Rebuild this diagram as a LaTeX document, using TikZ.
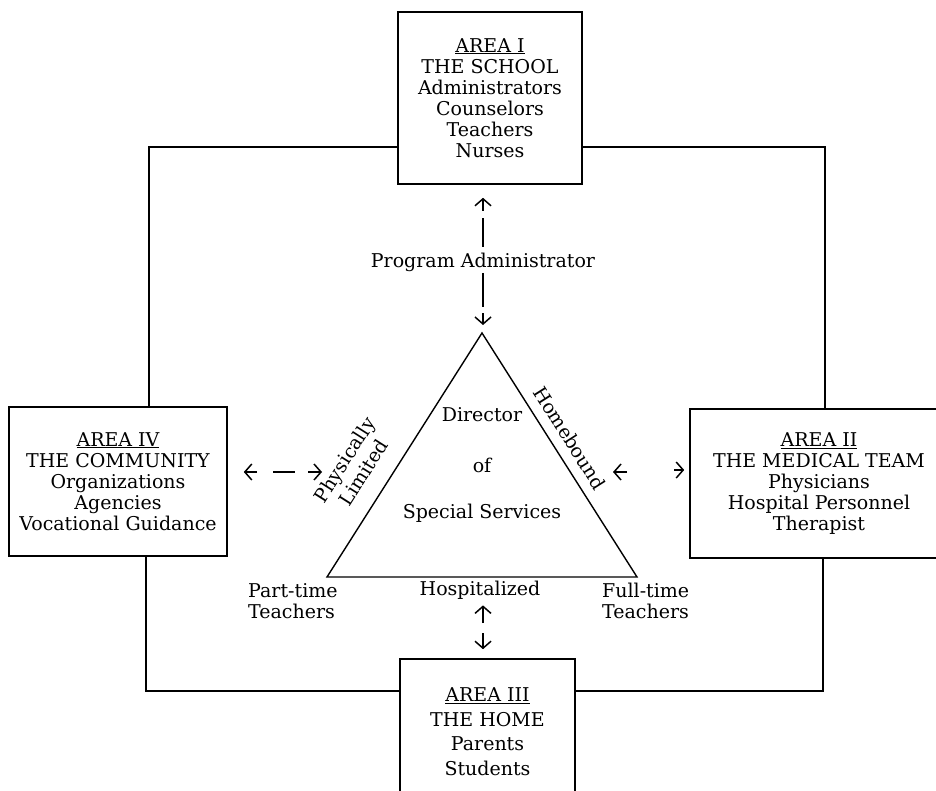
\documentclass[tikz,border=0pt]{standalone}
\usepackage{fontspec}
\setmainfont{DejaVu Serif}
\usetikzlibrary{arrows.meta}
\begin{document}
\begin{tikzpicture}[x=1pt,y=-1pt,
  every node/.style={font=\fontsize{19}{21}\selectfont, inner sep=0pt},
  area/.style={draw, line width=1.6pt, align=center},
  conn/.style={line width=1.3pt},
  tipa/.style={line width=1.5pt, -{Straight Barb[length=7pt,width=16pt,line width=1.5pt]}},
  ]
\useasboundingbox (0,0) rectangle (936,791);

% Area boxes
\node[area, minimum width=184, minimum height=172] (top) at (490,98)
  {\underline{AREA I}\\THE SCHOOL\\Administrators\\Counselors\\Teachers\\Nurses};
\node[area, minimum width=218, minimum height=149] (left) at (118,481.5)
  {\underline{AREA IV}\\THE COMMUNITY\\Organizations\\Agencies\\Vocational Guidance};
\node[area, minimum width=258, minimum height=149] (right) at (819,483.5)
  {\underline{AREA II}\\THE MEDICAL TEAM\\Physicians\\Hospital Personnel\\Therapist};
\node[area, minimum width=175, minimum height=145, font=\fontsize{19}{24.5}\selectfont] (home) at (487.5,731.5)
  {\underline{AREA III}\\THE HOME\\Parents\\Students};

% Outer connectors
\coordinate (ctl) at (149,147);
\coordinate (ctr) at (825,147);
\coordinate (cbl) at (146,691);
\coordinate (cbr) at (823,691);
\draw[conn] (top.west |- ctl) -| (left.north -| ctl);
\draw[conn] (left.south -| cbl) |- (home.west |- cbl);
\draw[conn] (home.east |- cbr) -| (right.south -| cbr);
\draw[conn] (right.north -| ctr) |- (top.east |- ctr);

% Triangle
\coordinate (apex) at (482,333);
\coordinate (tbl) at (327,577);
\coordinate (tbr) at (637,577);
\draw[line width=1.4pt] (apex) -- (tbl) -- (tbr) -- cycle;

\node (dir) at (482,415) {Director};
\node (of) at (482,465) {of};
\node (spec) at (482,513) {Special Services};
\node[rotate=57.6, align=center, font=\fontsize{19}{23}\selectfont] (phys) at (354,466) {Physically\\Limited};
\node[rotate=-57.6] (hb) at (570,438) {Homebound};

% Program administrator
\node (pa) at (483,262) {Program Administrator};
\coordinate (pau) at (483,247);
\coordinate (pad) at (483,273);
\draw[tipa, shorten >=13pt, dash pattern=on 29pt off 7pt on 30pt] (pau) -- (top.south -| pau);
\draw[tipa, shorten >=8pt, dash pattern=on 34pt off 6pt on 30pt] (pad) -- (apex -| pad);

% Bottom labels
\node[anchor=west, align=left] (pt) at (248,601) {Part-time\\Teachers};
\node (hosp) at (480,590) {Hospitalized};
\node[anchor=west, align=left] (ft) at (602,601) {Full-time\\Teachers};
\coordinate (hu) at (483,623);
\coordinate (hd) at (483,633);
\draw[tipa, shorten >=6pt] (hu) -- (hosp.south -| hu);
\draw[tipa, shorten >=9pt] (hd) -- (home.north -| hd);

% Left dashed double arrow
\coordinate (la1) at (257,472);
\coordinate (la2) at (308,472);
\coordinate (lm1) at (273,472);
\coordinate (lm2) at (295,472);
\draw[tipa, shorten >=16pt] (la1) -- (left.east |- la1);
\draw[conn] (lm1) -- (lm2);
\draw[tipa] (la2) -- ++(14,0) coordinate (latip);

% Right double arrow
\coordinate (ra1) at (627,472);
\coordinate (ra2) at (674,470);
\draw[tipa] (ra1) -- ++(-14,0) coordinate (ratip);
\draw[tipa, shorten >=5pt] (ra2) -- (right.west |- ra2);
\end{tikzpicture}
\end{document}
